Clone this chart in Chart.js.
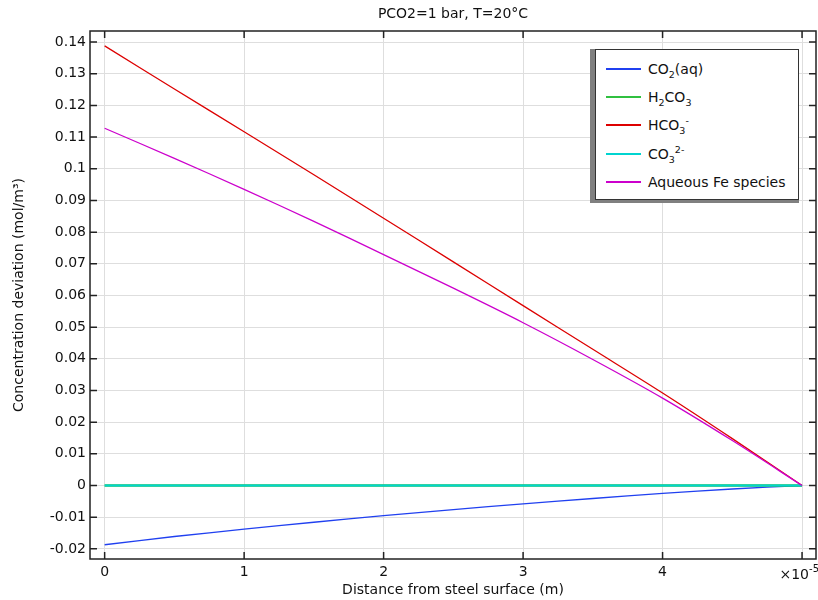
<!DOCTYPE html>
<html>
<head>
<meta charset="utf-8">
<script src="https://cdn.jsdelivr.net/npm/chart.js@4"></script>
<style>
  html, body { margin: 0; padding: 0; background: #fff; }
  #wrap { position: relative; width: 818px; height: 600px; }
  #legendShadow {
    position: absolute; left: 590px; top: 49px;
    border-left: 5px solid #808080; border-bottom: 3px solid #808080;
  }
  #legend {
    position: relative; width: 202px; height: 149px;
    border: 1.5px solid #333; background: #fff;
    font-family: 'DejaVu Sans', sans-serif; font-size: 14px; color: #111;
  }
  #legend .item { position: absolute; left: 10px; height: 18px; display: flex; align-items: center; white-space: nowrap; }
  #legend .swatch { width: 35px; height: 2px; margin-right: 7px; }
  #legend sub, #legend sup { font-size: 9.5px; line-height: 0; }
  #legend sub { vertical-align: -4px; }
  #legend sup { vertical-align: 6px; }
</style>
</head>
<body>
<div id="wrap">
  <canvas id="chart" width="818" height="600"></canvas>
  <div id="legendShadow"><div id="legend"></div></div>
</div>
<script>
// Data (x in units of 1e-5 m)
const xValues = [0, 0.5, 1, 1.5, 2, 2.5, 3, 3.5, 4, 4.5, 5];
const co2aq  = [-0.0187, -0.0161, -0.0138, -0.0116, -0.0095, -0.0076, -0.0058, -0.0041, -0.0025, -0.0011, 0];
const h2co3  = [0, 0, 0, 0, 0, 0, 0, 0, 0, 0, 0];
const hco3   = [0.1388, 0.1252, 0.1117, 0.0981, 0.0844, 0.0706, 0.0568, 0.0430, 0.0292, 0.0148, 0];
const co3    = [0, 0, 0, 0, 0, 0, 0, 0, 0, 0, 0];
const feAq   = [0.1128, 0.1033, 0.0935, 0.0834, 0.0729, 0.0623, 0.0514, 0.0398, 0.0276, 0.0142, 0];

const xTicks = [0, 1, 2, 3, 4, 5];
const yTicks = [-0.02, -0.01, 0, 0.01, 0.02, 0.03, 0.04, 0.05, 0.06, 0.07, 0.08, 0.09, 0.1, 0.11, 0.12, 0.13, 0.14];

const series = [
  { label: 'CO<sub>2</sub>(aq)', data: co2aq, color: '#2040f0', width: 1.3 },
  { label: 'H<sub>2</sub>CO<sub>3</sub>', data: h2co3, color: '#30c040', width: 2.4 },
  { label: 'HCO<sub>3</sub><sup>-</sup>', data: hco3, color: '#dd0000', width: 1.3 },
  { label: 'CO<sub>3</sub><sup>2-</sup>', data: co3, color: '#00d4d0', width: 1.8 },
  { label: 'Aqueous Fe species', data: feAq, color: '#cc00cc', width: 1.3 }
];

const FONT = "'DejaVu Sans', sans-serif";

// legend (html so sub/superscripts are real text)
const lg = document.getElementById('legend');
series.forEach((s, i) => {
  const it = document.createElement('div');
  it.className = 'item';
  it.style.top = (10 + i * 28.2) + 'px';
  it.innerHTML = '<div class="swatch" style="background:' + s.color + '"></div><span>' + s.label + '</span>';
  lg.appendChild(it);
});

// frame + inward ticks on all four sides, x multiplier label
const framePlugin = {
  id: 'frame',
  afterDraw(chart) {
    const { ctx, chartArea: a, scales } = chart;
    ctx.save();
    ctx.strokeStyle = '#222';
    ctx.lineWidth = 1.5;
    ctx.strokeRect(a.left, a.top, a.right - a.left, a.bottom - a.top);
    ctx.beginPath();
    xTicks.forEach(v => {
      const px = scales.x.getPixelForValue(v);
      ctx.moveTo(px, a.bottom); ctx.lineTo(px, a.bottom - 7);
      ctx.moveTo(px, a.top); ctx.lineTo(px, a.top + 7);
    });
    yTicks.forEach(v => {
      const py = scales.y.getPixelForValue(v);
      ctx.moveTo(a.left, py); ctx.lineTo(a.left + 7, py);
      ctx.moveTo(a.right, py); ctx.lineTo(a.right - 7, py);
    });
    ctx.stroke();
    // ×10^-5
    ctx.fillStyle = '#111';
    ctx.textBaseline = 'alphabetic';
    ctx.font = '14px ' + FONT;
    ctx.textAlign = 'left';
    const base = a.bottom + 20;
    const w1 = ctx.measureText('×10').width;
    ctx.font = '10px ' + FONT;
    const w2 = ctx.measureText('-5').width;
    const x0 = 818 - w1 - w2 + 1;
    ctx.font = '14px ' + FONT;
    ctx.fillText('×10', x0, base);
    ctx.font = '10px ' + FONT;
    ctx.fillText('-5', x0 + w1, base - 7);
    ctx.restore();
  }
};

new Chart(document.getElementById('chart'), {
  type: 'line',
  data: {
    labels: xValues,
    datasets: series.map((s, i) => ({
      label: s.label,
      data: xValues.map((x, k) => ({ x: x, y: s.data[k] })),
      borderColor: s.color,
      borderWidth: s.width,
      pointRadius: 0,
      tension: 0.3,
      fill: false,
      order: series.length - i
    }))
  },
  options: {
    responsive: false,
    animation: false,
    layout: { padding: { top: 0, right: 2, left: 0, bottom: 0 } },
    plugins: {
      legend: { display: false },
      tooltip: { enabled: false },
      title: {
        display: true,
        fullSize: false,
        text: 'PCO2=1 bar, T=20°C',
        color: '#111',
        font: { family: FONT, size: 14, weight: 'normal' },
        padding: { top: 6, bottom: 8.2 }
      }
    },
    scales: {
      x: {
        type: 'linear',
        min: -0.105,
        max: 5.1,
        afterBuildTicks: s => { s.ticks = xTicks.map(v => ({ value: v })); },
        afterFit: s => { s.height = 41; s.paddingLeft = 0; s.paddingRight = 0; },
        ticks: {
          color: '#111', font: { family: FONT, size: 14 }, padding: 5, maxRotation: 0,
          callback: v => (v === 5 ? '' : String(v))
        },
        grid: { color: '#dedede', drawTicks: false },
        border: { display: false },
        title: {
          display: true, text: 'Distance from steel surface (m)', color: '#111',
          font: { family: FONT, size: 14 }, padding: { top: 0, bottom: 1 }
        }
      },
      y: {
        min: -0.0232,
        max: 0.1435,
        afterBuildTicks: s => { s.ticks = yTicks.map(v => ({ value: v })); },
        afterFit: s => { s.width = 90; s.paddingTop = 0; s.paddingBottom = 0; },
        ticks: {
          color: '#111', font: { family: FONT, size: 14 }, padding: 4,
          callback: v => String(parseFloat(v.toFixed(2)))
        },
        grid: { color: '#dedede', drawTicks: false },
        border: { display: false },
        title: {
          display: true, text: 'Concentration deviation (mol/m³)', color: '#111',
          font: { family: FONT, size: 14 }, padding: { top: 11, bottom: 0 }
        }
      }
    }
  },
  plugins: [framePlugin]
});
</script>
</body>
</html>
